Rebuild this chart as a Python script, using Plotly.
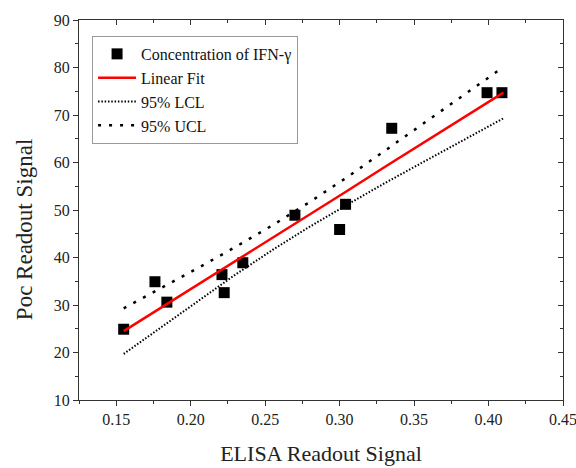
import plotly.graph_objects as go

elisa_x = [0.155, 0.176, 0.184, 0.221, 0.2225, 0.235, 0.270, 0.300, 0.304, 0.335, 0.399, 0.409]
poc_y = [24.9, 34.9, 30.6, 36.4, 32.6, 38.9, 48.9, 45.9, 51.2, 67.2, 74.7, 74.7]

# Fit line and confidence limits
band_x = [0.155, 0.18, 0.205, 0.23, 0.255, 0.28, 0.305, 0.33, 0.355, 0.38, 0.41]
fit_y = [24.5, 29.4, 34.3, 39.3, 44.2, 49.1, 54.0, 59.0, 63.9, 68.8, 74.7]
lcl_y = [19.7, 25.3, 30.8, 36.4, 41.6, 46.5, 51.1, 55.6, 59.9, 64.2, 69.3]
ucl_y = [29.3, 33.5, 37.8, 42.2, 46.8, 51.7, 56.9, 62.4, 67.9, 73.4, 80.1]

x_ticks = [0.15, 0.20, 0.25, 0.30, 0.35, 0.40, 0.45]
y_ticks = [10, 20, 30, 40, 50, 60, 70, 80, 90]

FONT = "Liberation Serif"
AX = "#333333"

fig = go.Figure()
fig.add_trace(go.Scatter(x=elisa_x, y=poc_y, mode="markers", name="Concentration of IFN-γ",
                         marker=dict(symbol="square", size=11, color="black")))
fig.add_trace(go.Scatter(x=band_x, y=fit_y, mode="lines", name="Linear Fit",
                         line=dict(color="#ff0000", width=2.5)))
fig.add_trace(go.Scatter(x=band_x, y=lcl_y, mode="lines", name="95% LCL",
                         line=dict(color="black", width=2, dash="1.5px,1.8px")))
fig.add_trace(go.Scatter(x=band_x, y=ucl_y, mode="lines", name="95% UCL",
                         line=dict(color="black", width=2.5, dash="3px,8px")))
# invisible trace to anchor mirrored axes
fig.add_trace(go.Scatter(x=[x_ticks[0]], y=[y_ticks[0]], xaxis="x2", yaxis="y2",
                         mode="markers", marker=dict(opacity=0), showlegend=False,
                         hoverinfo="skip"))

xr = [0.125, 0.45]
yr = [10, 90]
common = dict(showgrid=False, zeroline=False, showline=True, linecolor=AX, linewidth=1.2,
              tickcolor=AX, ticklen=5, tickwidth=1.2, automargin=False)

fig.update_layout(
    width=576, height=468,
    margin=dict(l=79, r=13, t=20, b=68),
    paper_bgcolor="white", plot_bgcolor="white",
    font=dict(family=FONT, size=16, color="#222222"),
    showlegend=True,
    legend=dict(x=0.027, y=0.958, xanchor="left", yanchor="top",
                bgcolor="white", bordercolor="#999999", borderwidth=1,
                font=dict(family=FONT, size=16, color="#111111"),
                tracegroupgap=0, itemwidth=38),
    xaxis=dict(range=xr, tickvals=x_ticks, ticktext=[f"{v:.2f}" for v in x_ticks],
               ticks="outside", ticklabeloverflow="allow",
               minor=dict(dtick=0.025, tick0=0.125, ticks="outside", ticklen=3, tickcolor=AX),
               title=dict(text="ELISA Readout Signal", font=dict(family=FONT, size=22),
                          standoff=18),
               tickfont=dict(family=FONT, size=16), **common),
    yaxis=dict(range=yr, tickvals=y_ticks, ticks="outside", ticklabeloverflow="allow",
               minor=dict(dtick=5, tick0=10, ticks="outside", ticklen=3, tickcolor=AX),
               tickfont=dict(family=FONT, size=16), **common),
    xaxis2=dict(range=xr, overlaying="x", side="top", anchor="y", tickvals=x_ticks,
                ticks="inside", showticklabels=False,
                minor=dict(dtick=0.025, tick0=0.125, ticks="inside", ticklen=3, tickcolor=AX),
                **common),
    yaxis2=dict(range=yr, overlaying="y", side="right", anchor="x", tickvals=y_ticks,
                ticks="inside", showticklabels=False,
                minor=dict(dtick=5, tick0=10, ticks="inside", ticklen=3, tickcolor=AX),
                **common),
    annotations=[dict(text="Poc Readout Signal", textangle=-90, showarrow=False,
                      xref="paper", yref="paper", x=-0.1136, y=0.447,
                      xanchor="center", yanchor="middle",
                      font=dict(family=FONT, size=23, color="#222222"))],
)

fig.write_html("out.html", config={"displayModeBar": False},
               post_script="document.body.style.margin='0';document.body.style.overflow='hidden';")
